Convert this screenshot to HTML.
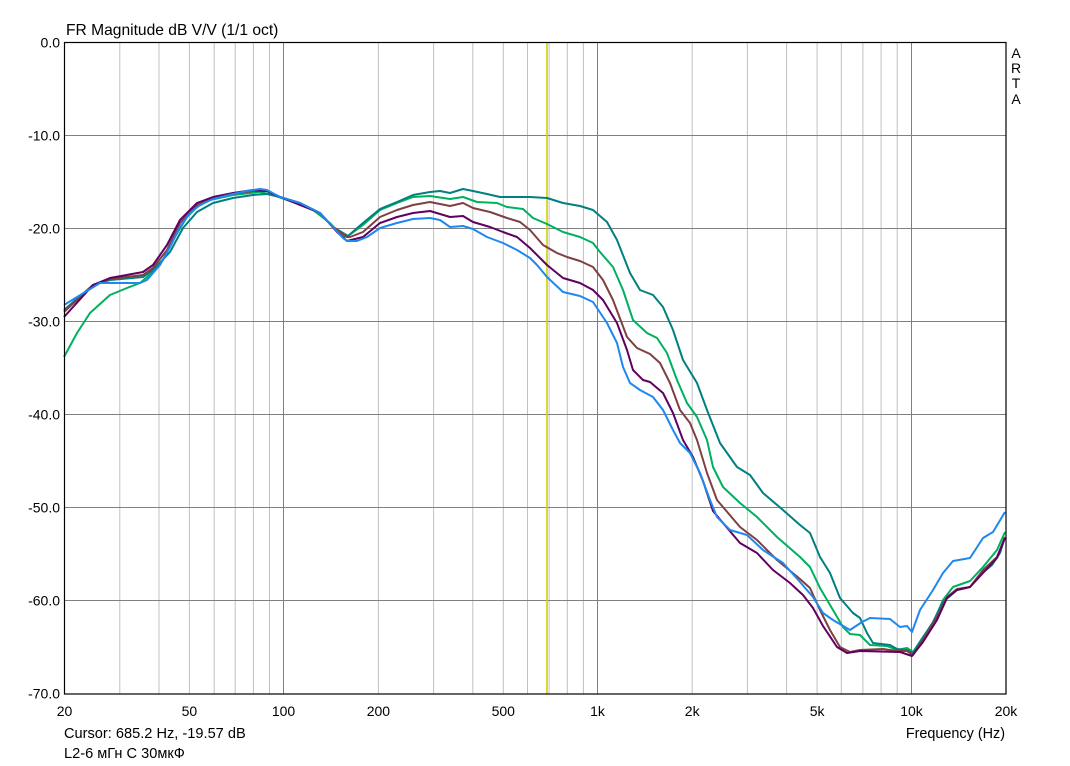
<!DOCTYPE html>
<html><head><meta charset="utf-8"><style>
html,body{margin:0;padding:0;background:#fff;}
svg{display:block;}
text{font-family:"Liberation Sans",Arial,sans-serif;font-size:14px;fill:#000;}
</style></head><body>
<svg width="1070" height="766" viewBox="0 0 1070 766" xmlns="http://www.w3.org/2000/svg">
<rect x="0" y="0" width="1070" height="766" fill="#fff"/>
<g stroke="#c0c0c0" stroke-width="1">
<line x1="119.8" y1="42.5" x2="119.8" y2="694"/>
<line x1="159.0" y1="42.5" x2="159.0" y2="694"/>
<line x1="189.4" y1="42.5" x2="189.4" y2="694"/>
<line x1="214.2" y1="42.5" x2="214.2" y2="694"/>
<line x1="235.2" y1="42.5" x2="235.2" y2="694"/>
<line x1="253.4" y1="42.5" x2="253.4" y2="694"/>
<line x1="269.5" y1="42.5" x2="269.5" y2="694"/>
<line x1="378.4" y1="42.5" x2="378.4" y2="694"/>
<line x1="433.6" y1="42.5" x2="433.6" y2="694"/>
<line x1="472.8" y1="42.5" x2="472.8" y2="694"/>
<line x1="503.3" y1="42.5" x2="503.3" y2="694"/>
<line x1="527.5" y1="42.5" x2="527.5" y2="694"/>
<line x1="549.1" y1="42.5" x2="549.1" y2="694"/>
<line x1="567.3" y1="42.5" x2="567.3" y2="694"/>
<line x1="583.4" y1="42.5" x2="583.4" y2="694"/>
<line x1="692.2" y1="42.5" x2="692.2" y2="694"/>
<line x1="747.4" y1="42.5" x2="747.4" y2="694"/>
<line x1="786.6" y1="42.5" x2="786.6" y2="694"/>
<line x1="817.1" y1="42.5" x2="817.1" y2="694"/>
<line x1="841.3" y1="42.5" x2="841.3" y2="694"/>
<line x1="862.9" y1="42.5" x2="862.9" y2="694"/>
<line x1="881.1" y1="42.5" x2="881.1" y2="694"/>
<line x1="897.2" y1="42.5" x2="897.2" y2="694"/>
</g>
<g stroke="#808080" stroke-width="1">
<line x1="283.5" y1="42.5" x2="283.5" y2="694"/>
<line x1="597.5" y1="42.5" x2="597.5" y2="694"/>
<line x1="911.5" y1="42.5" x2="911.5" y2="694"/>
<line x1="64.5" y1="135.5" x2="1006" y2="135.5"/>
<line x1="64.5" y1="228.5" x2="1006" y2="228.5"/>
<line x1="64.5" y1="321.5" x2="1006" y2="321.5"/>
<line x1="64.5" y1="414.5" x2="1006" y2="414.5"/>
<line x1="64.5" y1="507.5" x2="1006" y2="507.5"/>
<line x1="64.5" y1="600.5" x2="1006" y2="600.5"/>
</g>
<line x1="547" y1="42.5" x2="547" y2="694" stroke="#d0d000" stroke-width="1.6"/>
<g fill="none" stroke-width="2" stroke-linejoin="round">
<polyline stroke="#00b060" points="64,357 77,333 90,313 110,295 127,288 140,283 153,272 163,260 173,240 187,217 197,207 210,200 233,195 260,192 273,195 293,202 313,210 330,223 343,237 348,236 363,225 380,210 397,203 413,197 430,196 450,199 463,197 477,202 497,203 507,207 523,209 533,218 547,224 563,232 580,237 593,243 600,252 613,267 623,290 633,320 647,333 657,338 667,353 677,380 687,403 697,417 707,440 713,467 723,487 740,503 757,517 777,537 800,557 810,567 820,588 833,610 843,627 850,634 860,635 870,645 887,646 897,650 907,648 913,652 923,637 933,623 943,600 953,587 970,581 983,567 997,550 1005,532"/>
<polyline stroke="#008080" points="64,310 93,285 110,280 143,277 153,270 170,252 183,228 197,212 213,203 233,198 253,195 267,194 280,197 300,203 320,213 333,227 348,236 363,223 380,209 397,202 413,195 430,192 440,191 450,193 463,189 473,191 487,194 500,197 517,197 530,197 547,198 563,203 580,206 593,210 607,222 617,240 630,273 640,290 653,295 663,307 673,330 683,360 697,383 707,410 720,443 737,467 750,475 763,493 783,510 800,525 810,533 820,557 830,573 840,598 853,613 860,618 867,633 873,643 890,645 897,649 907,650 913,653 920,642 933,622 943,602 957,590 970,587 980,575 992,565 1000,553 1005,537"/>
<polyline stroke="#804040" points="64,312 93,285 110,279 143,275 153,268 167,250 180,223 197,205 213,198 233,194 253,191 267,191 280,197 300,203 320,213 333,227 347,237 350,237 363,232 380,217 397,210 413,205 430,202 450,206 463,203 473,208 490,212 507,218 520,222 530,230 543,245 557,253 567,257 580,261 593,267 603,280 613,300 627,337 637,348 650,354 660,363 670,383 680,410 690,423 697,440 707,473 717,500 740,527 757,540 777,560 800,579 810,588 820,610 830,630 840,647 850,652 860,650 883,649 897,651 907,651 913,655 923,640 937,617 947,597 957,589 970,587 983,570 997,557 1005,537"/>
<polyline stroke="#600060" points="64,317 93,285 110,278 143,272 153,265 167,245 180,220 197,203 213,197 233,193 253,190 267,191 280,197 320,213 337,232 347,241 363,237 380,223 397,217 413,213 430,211 450,217 463,216 473,222 490,227 503,232 517,237 530,248 547,265 563,278 580,283 593,290 603,300 617,323 627,350 633,370 643,380 650,382 663,393 673,413 683,440 693,457 703,481 713,511 723,523 740,543 757,553 773,570 790,583 803,595 813,608 823,626 837,647 847,653 860,651 900,652 912,656 923,642 937,620 947,598 957,590 970,587 983,573 997,558 1005,538"/>
<polyline stroke="#1e88f0" points="64,305 100,283 127,283 140,283 147,280 153,273 160,265 170,247 180,227 190,213 200,205 213,199 233,194 247,191 260,189 267,190 280,197 300,203 320,213 333,227 343,238 347,241 357,241 367,237 380,228 397,223 413,219 430,218 440,220 450,227 463,226 473,229 487,237 503,243 517,250 530,258 537,265 547,277 563,292 580,296 593,302 607,323 617,343 623,367 630,383 640,390 653,397 663,410 673,430 680,443 690,453 700,473 710,500 717,517 730,530 747,535 763,550 783,563 800,582 813,597 823,613 833,620 850,630 862,622 870,618 890,619 900,627 907,626 912,632 920,610 933,590 943,573 953,561 970,558 983,538 993,532 1005,512"/>
</g>
<rect x="64.5" y="42.5" width="941.5" height="651.5" fill="none" stroke="#000" stroke-width="1.2"/>
<text x="66" y="35" style="font-size:15.6px">FR Magnitude dB V/V (1/1 oct)</text>
<g text-anchor="end">
<text x="60" y="47.5">0.0</text>
<text x="60" y="140.5">-10.0</text>
<text x="60" y="233.5">-20.0</text>
<text x="60" y="326.5">-30.0</text>
<text x="60" y="419.5">-40.0</text>
<text x="60" y="512.5">-50.0</text>
<text x="60" y="605.5">-60.0</text>
<text x="60" y="698.5">-70.0</text>
</g>
<g text-anchor="middle" style="font-size:14.4px">
<text x="64.5" y="716">20</text>
<text x="189.4" y="716">50</text>
<text x="283.5" y="716">100</text>
<text x="378.4" y="716">200</text>
<text x="503.3" y="716">500</text>
<text x="597.5" y="716">1k</text>
<text x="692.2" y="716">2k</text>
<text x="817.1" y="716">5k</text>
<text x="911.5" y="716">10k</text>
<text x="1006" y="716">20k</text>
</g>
<text x="64" y="738" style="font-size:14.6px">Cursor: 685.2 Hz, -19.57 dB</text>
<text x="1005" y="738" text-anchor="end" style="font-size:14.4px">Frequency (Hz)</text>
<text x="64" y="758" style='font-family:"Liberation Sans","DejaVu Sans",sans-serif;font-size:14.6px'>L2-6 мГн С 30мкФ</text>
<g text-anchor="middle" style="font-size:15px">
<text x="1016" y="58">A</text>
<text x="1016" y="73">R</text>
<text x="1016" y="88">T</text>
<text x="1016" y="104">A</text>
</g>
</svg>
</body></html>
